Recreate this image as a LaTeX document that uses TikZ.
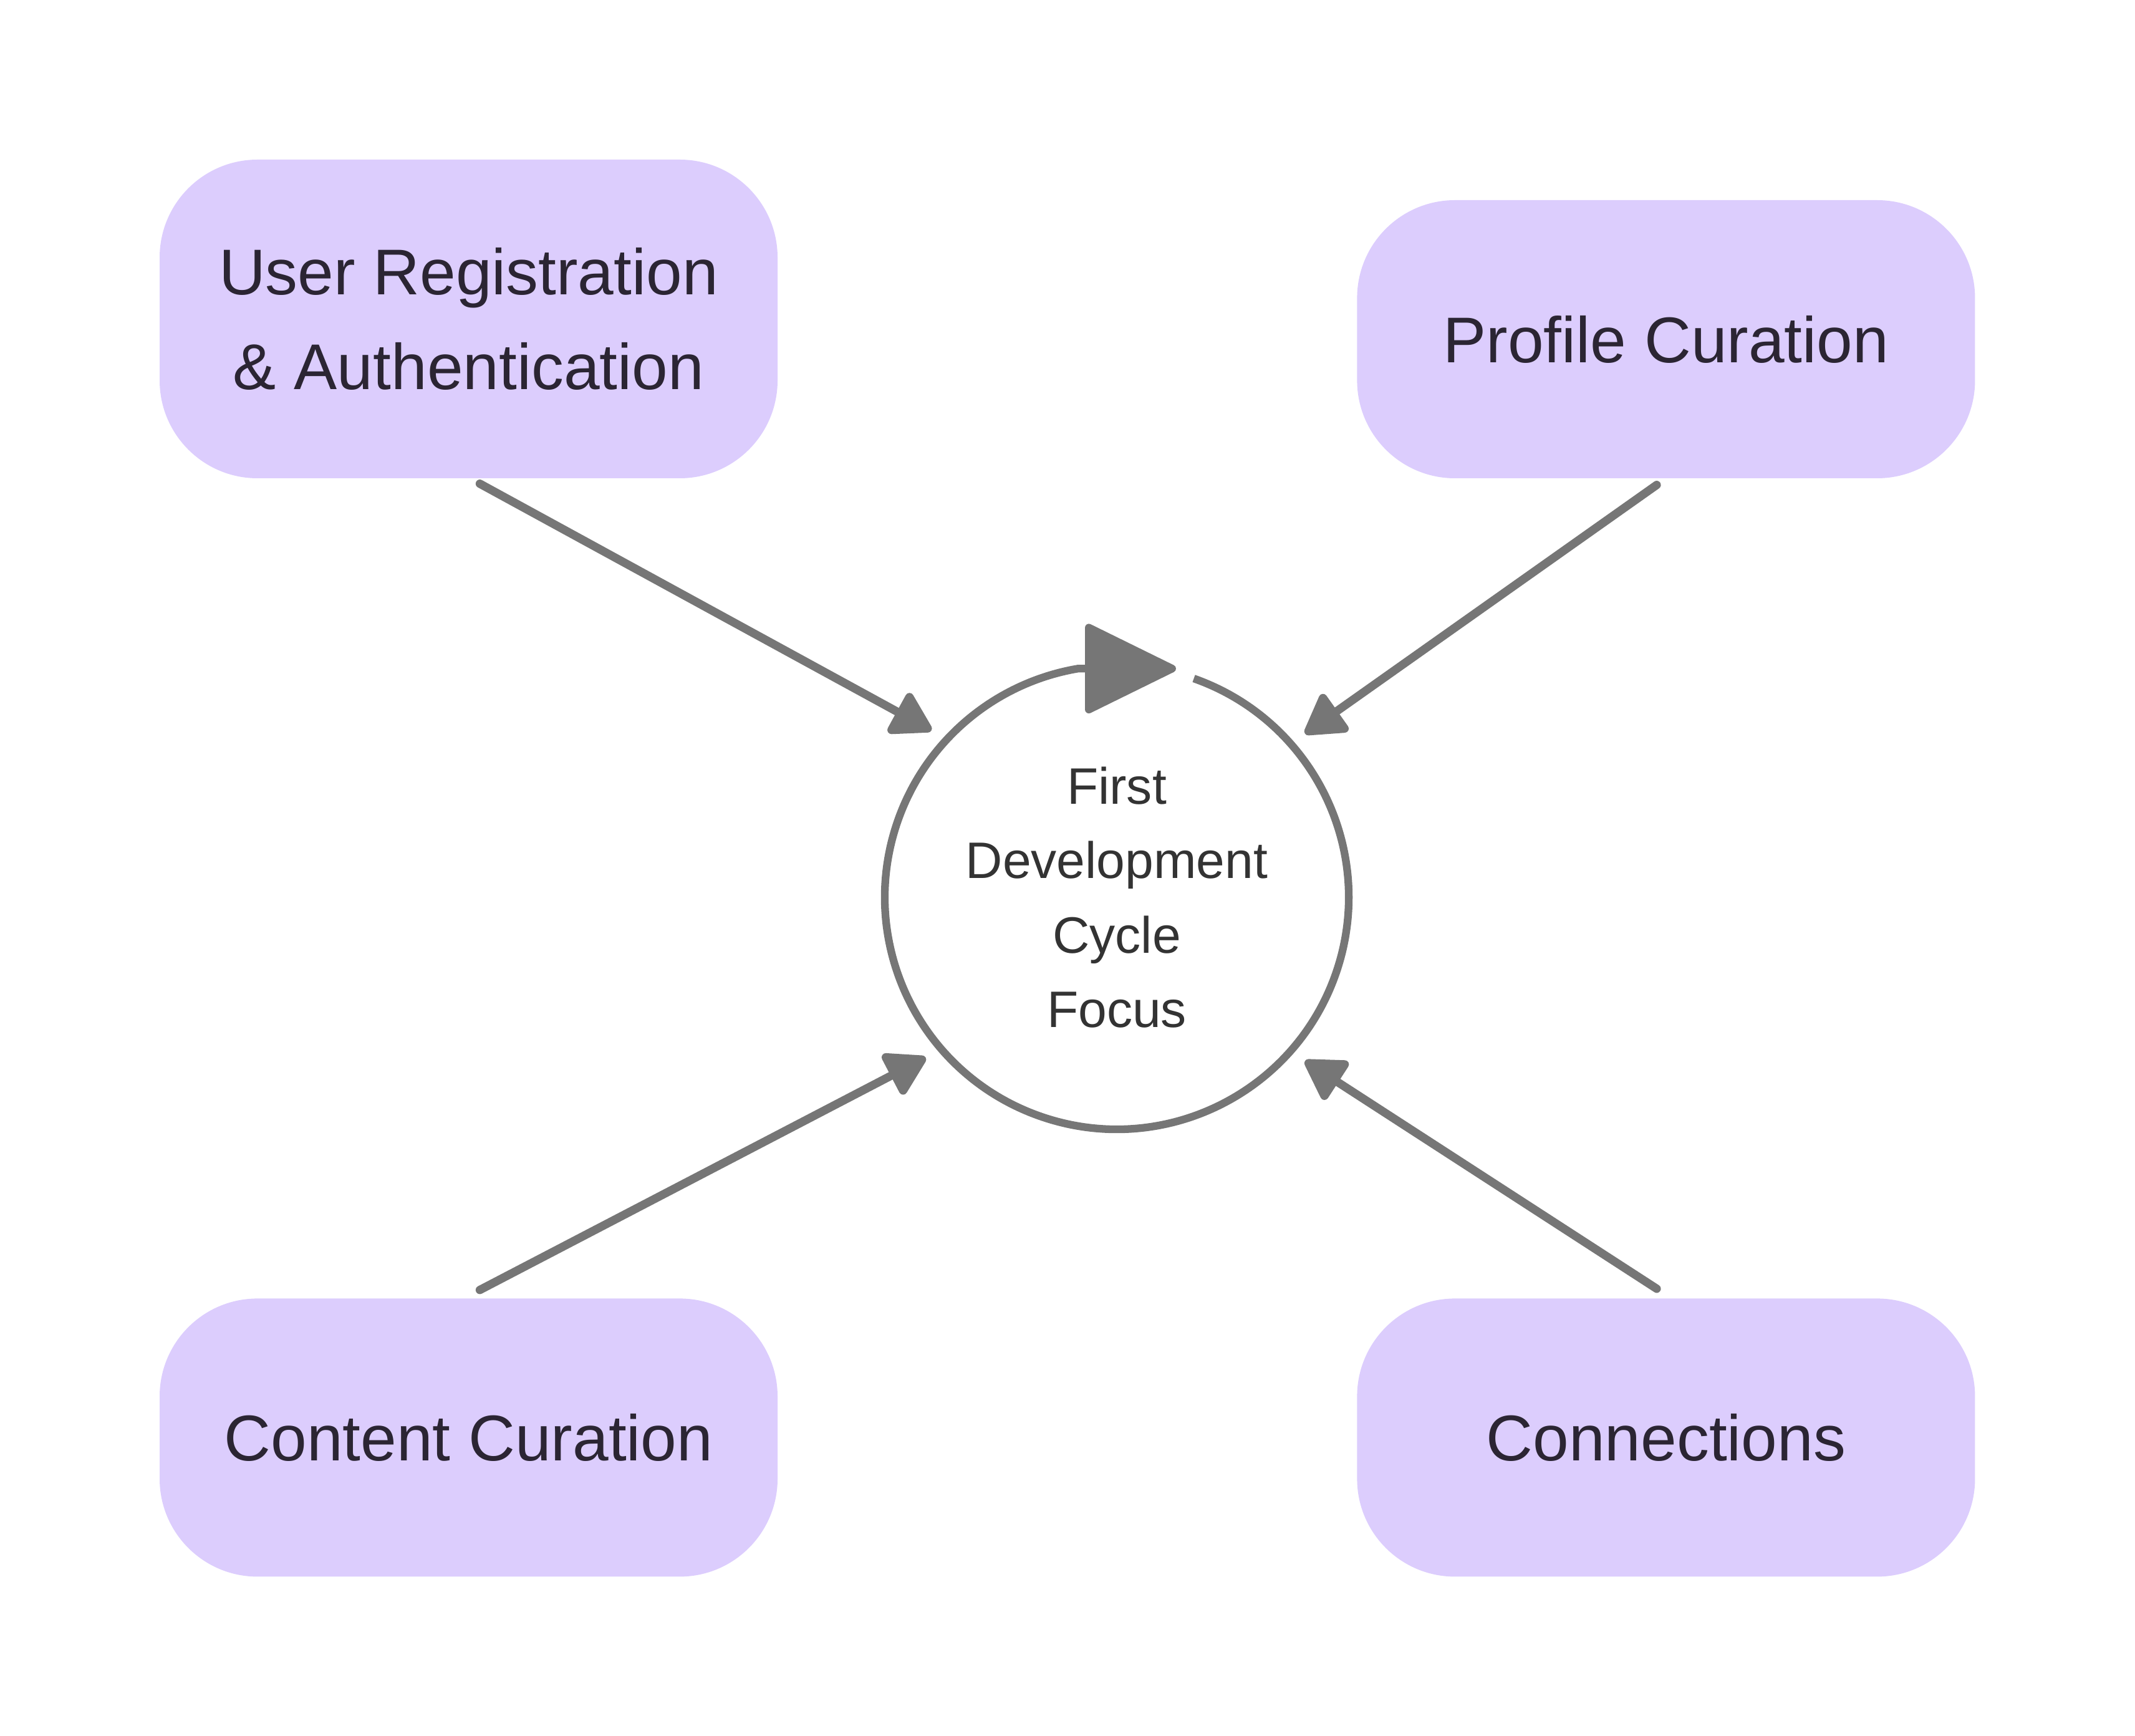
\documentclass[tikz,border=0pt]{standalone}
\usepackage{fontspec}
\setmainfont{Liberation Sans}
\usepackage{xcolor}
\usetikzlibrary{shapes,arrows.meta,positioning,calc}

\definecolor{boxfill}{HTML}{DCCDFD}
\definecolor{boxtext}{HTML}{2B2533}
\definecolor{linegray}{HTML}{767676}
\definecolor{ringtext}{HTML}{333333}

\begin{document}
\begin{tikzpicture}[
    feature/.style={rectangle, rounded corners=1.57cm, fill=boxfill, text=boxtext,
        minimum width=9.91cm, align=center, inner sep=0pt,
        font=\fontsize{29.5}{43}\selectfont},
    flow/.style={-{Triangle[length=7mm, width=8mm, round]}, line width=3.8pt, draw=linegray,
        line cap=round},
    ring/.style={-{Triangle[length=15.4mm, width=14.8mm, round]}, line width=3.5pt,
        draw=linegray}
]
    \useasboundingbox (0,0) rectangle (34.24,-27.84);

    \node[feature, minimum height=5.11cm] (reg) at (7.515,-5.115) {User Registration\\ \& Authentication};
    \node[feature, minimum height=4.46cm, right=9.28cm of reg.south east, anchor=south west] (profile) {Profile Curation};
    \node[feature, minimum height=4.46cm, below=13.14cm of reg] (content) {Content Curation};
    \node[feature, minimum height=4.46cm, right=9.28cm of content] (connect) {Connections};

    % Center cycle
    \node[circle, minimum size=7.44cm, inner sep=0pt, outer sep=0.28cm, text=ringtext, align=center,
        font=\fontsize{23.4}{34}\selectfont] (focus) at (17.91,-14.39)
        {First\\ Development\\ Cycle\\ Focus};
    \draw[ring] (focus.center) ++(70.6:3.72) arc[start angle=70.6, end angle=-260.4, radius=3.72]
        -- ++(1.57,0);

    \draw[flow] ([xshift=0.18cm, yshift=-0.08cm]reg.south) -- (focus.138);
    \draw[flow] ([xshift=-0.15cm, yshift=-0.1cm]profile.south) -- (focus.41.3);
    \draw[flow] ([xshift=0.18cm, yshift=0.13cm]content.north) -- (focus.220.5);
    \draw[flow] ([xshift=-0.15cm, yshift=0.15cm]connect.north) -- (focus.-41.8);
\end{tikzpicture}
\end{document}
